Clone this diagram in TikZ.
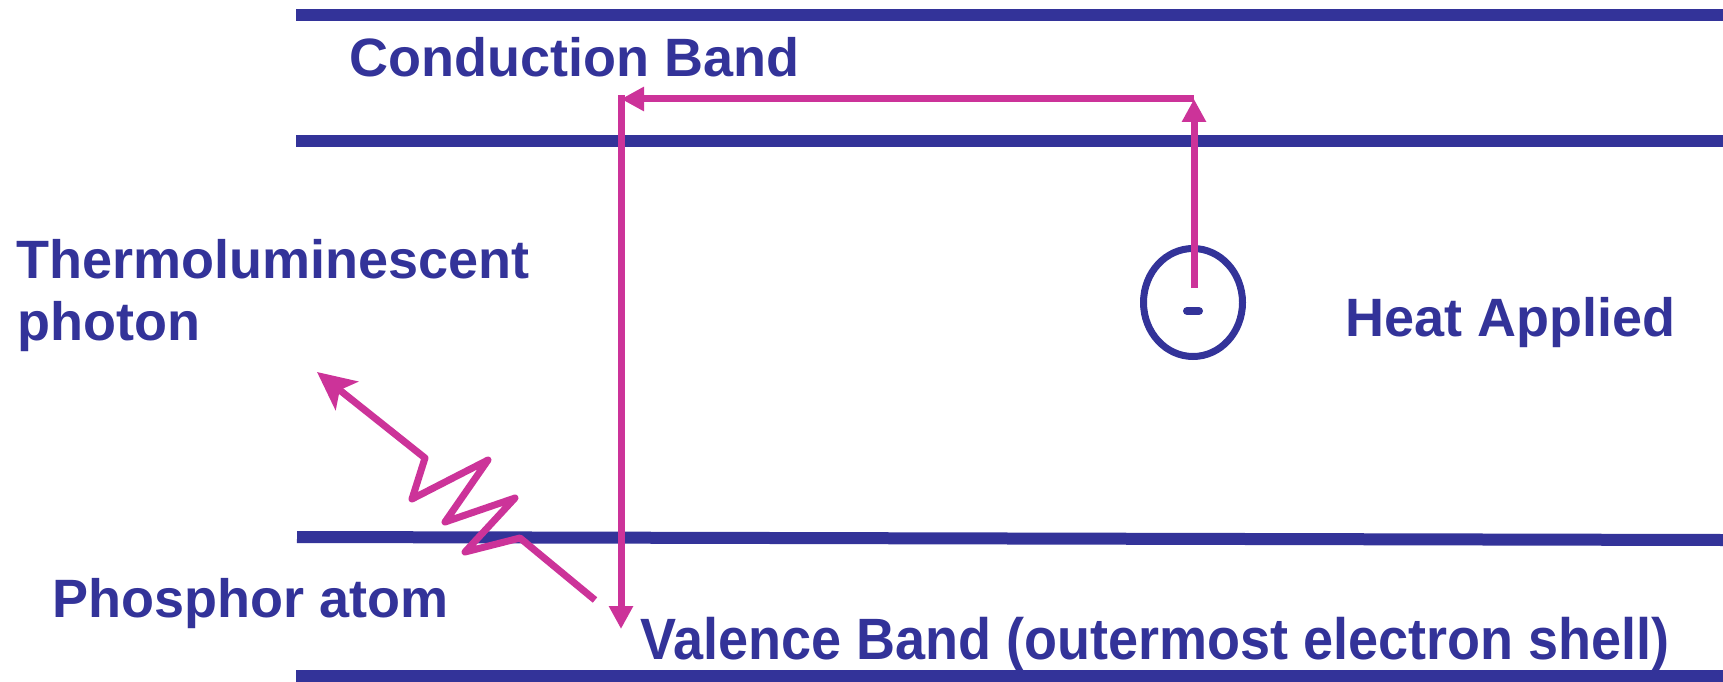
\documentclass[tikz,border=0pt]{standalone}
\usepackage{fontspec}
\setmainfont{Liberation Sans}
\usetikzlibrary{arrows.meta,shapes.geometric}
\definecolor{bandblue}{HTML}{333399}
\definecolor{arrowpink}{HTML}{CC3399}
\begin{document}
\begin{tikzpicture}[x=1pt,y=-1pt,
  band/.style={draw=bandblue,line width=12pt},
  lbl/.style={anchor=base west,inner sep=0pt,text=bandblue,font=\fontsize{54}{60}\selectfont\bfseries},
  transition/.style={draw=arrowpink,line width=7pt,-{Triangle[length=23pt,width=23pt]}},
  photon/.style={draw=arrowpink,line width=7pt,line join=round,-{Stealth[length=38pt,width=36pt,inset=9pt]}},
]
\useasboundingbox (0,0) rectangle (1723,682);
% bands
\draw[band] (296,15) -- (1723,15);
\draw[band] (296,141) -- (1723,141);
\draw[band] (297,537) -- (1723,540);
\draw[band] (296,676) -- (1723,676);
% labels
\node[lbl] (cb) at (349,77) {Conduction Band};
\node[lbl] (tl) at (16.5,278) {Thermoluminescent};
\node[lbl] (ph) at (17,340) {photon};
\node[lbl] (heat) at (1345,336) {Heat Applied};
\node[lbl] (pa) at (52,617) {Phosphor atom};
\node[lbl] (vb) at (640,659) {\scalebox{1}[1.08]{Valence Band (outermost electron shell)}};
% electron
\node[draw=bandblue,line width=7pt,ellipse,minimum width=99pt,minimum height=108pt,inner sep=0pt] (electron) at (1193,302.5) {};
\draw[bandblue,line width=8pt,line cap=round] (1187,311) -- (1199,311);
% transitions
\coordinate (eStart) at (1194,288);
\coordinate (cbR) at (1194,99);
\coordinate (cbL) at (621,99);
\coordinate (cbTop) at (621,95.5);
\coordinate (vbEnd) at (621,629);
\draw[transition] (eStart) -- (cbR);
\draw[transition] (cbR) -- (cbL);
\draw[transition] (cbTop) -- (vbEnd);
% photon
\coordinate (phStart) at (595,600);
\coordinate (phTip) at (317,372);
\draw[photon] (phStart) -- (520,538) -- (465,552) -- (515,498) -- (445,522) -- (488,460) -- (412,499) -- (425,458) -- (phTip);
\end{tikzpicture}
\end{document}
